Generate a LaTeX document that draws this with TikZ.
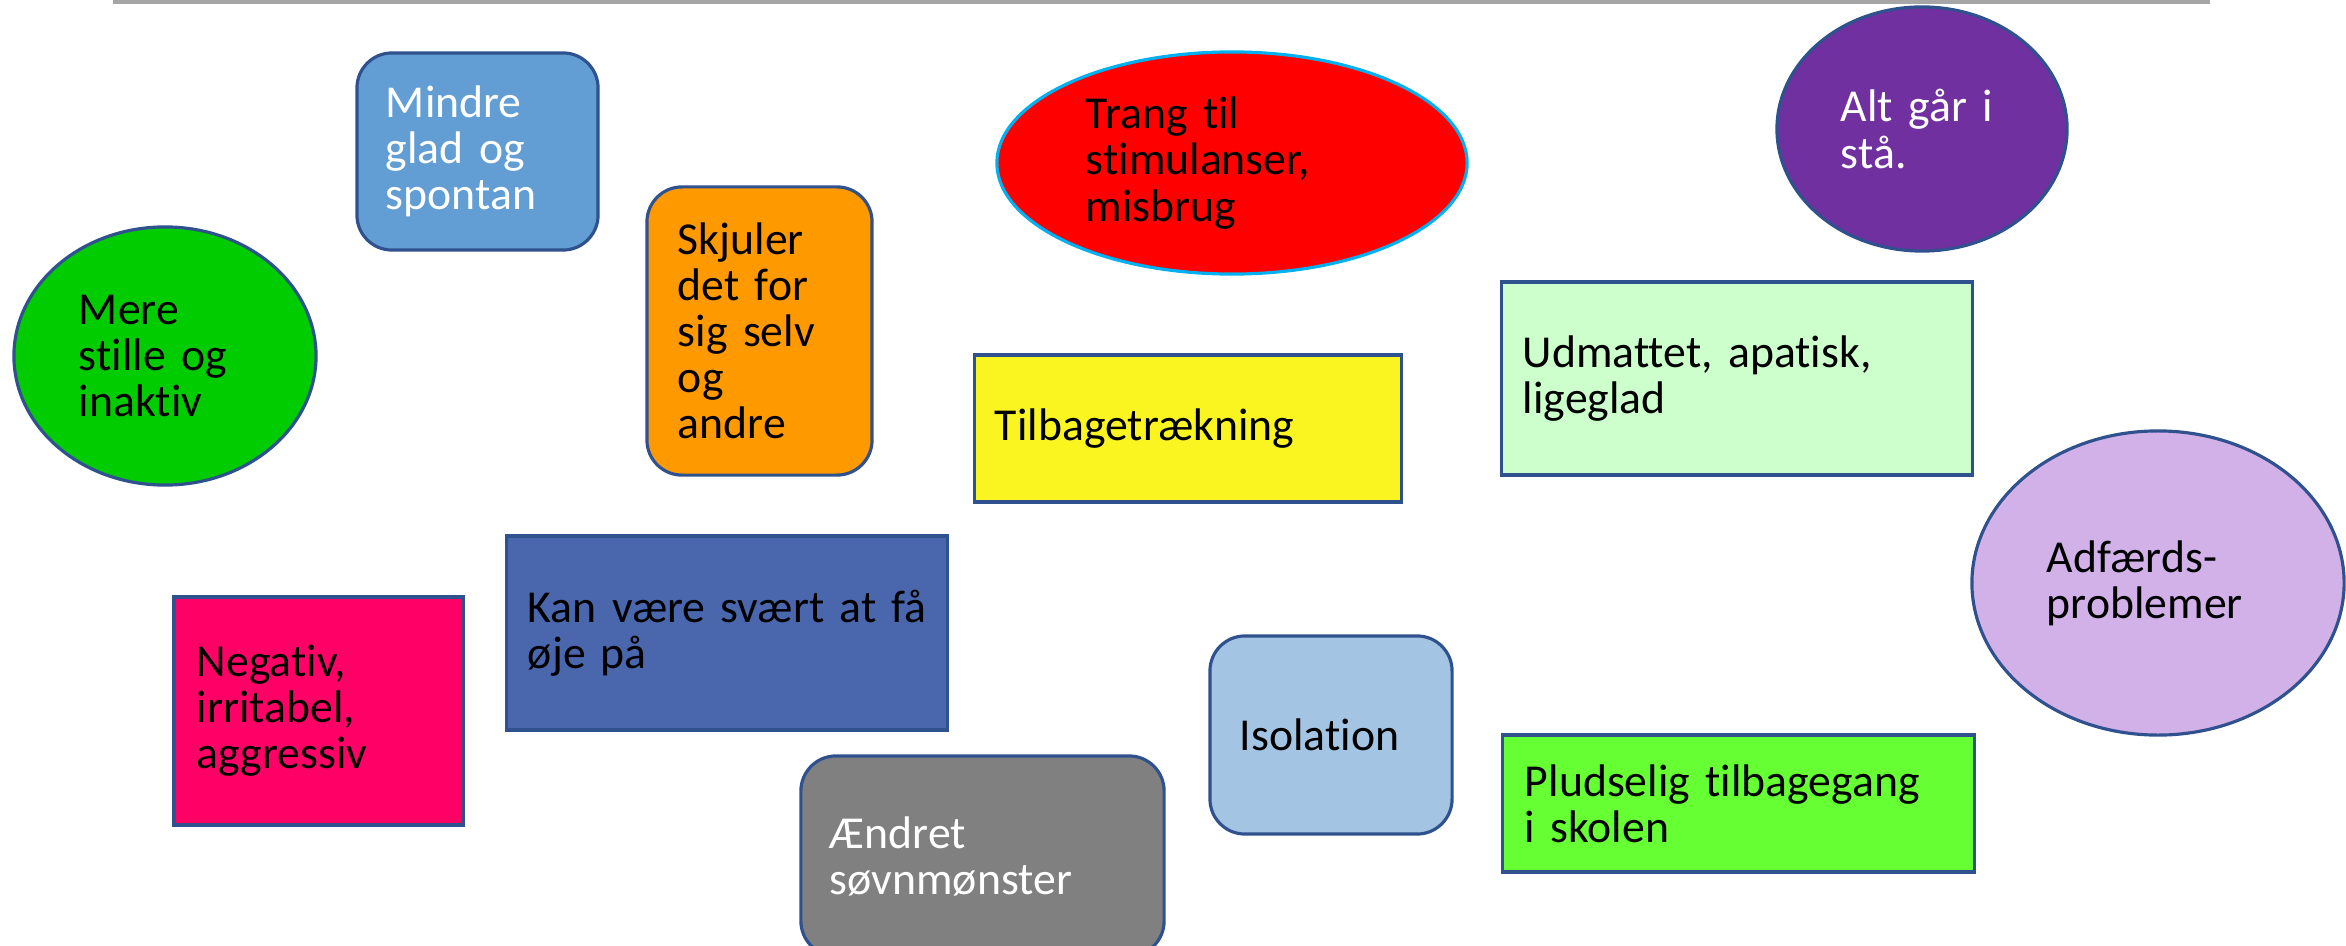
\documentclass[tikz,border=0pt]{standalone}
\usepackage{fontspec}
\setmainfont{Carlito}[Ligatures=NoCommon]
\usetikzlibrary{shapes.geometric}
\definecolor{edgeblue}{HTML}{2F528F}
\definecolor{rulegray}{HTML}{A6A6A6}
\definecolor{oceanblue}{HTML}{629ED3}
\definecolor{orangefill}{HTML}{FF9900}
\definecolor{cyanedge}{HTML}{00B0F0}
\definecolor{purplefill}{HTML}{7030A0}
\definecolor{mintfill}{HTML}{CCFFCC}
\definecolor{yellowfill}{HTML}{FAF520}
\definecolor{lilacfill}{HTML}{D1B1E8}
\definecolor{skyfill}{HTML}{A3C4E2}
\definecolor{limefill}{HTML}{66FF33}
\definecolor{pinkfill}{HTML}{FF0066}
\definecolor{navyfill}{HTML}{4A66AC}
\definecolor{grayfill}{HTML}{808080}
\definecolor{grassfill}{HTML}{00CC00}
\begin{document}
\begin{tikzpicture}[x=0.01cm,y=-0.01cm,
    main node/.style={draw=edgeblue,line width=0.9pt,inner sep=0pt,align=left,
      font=\fontsize{13}{13.1}\selectfont},
    box node/.style={main node,rectangle},
    round node/.style={main node,rectangle,rounded corners=0.35cm},
    oval node/.style={main node,ellipse}]
    \useasboundingbox (0,0) rectangle (2346,946);
    \clip (0,0) rectangle (2346,946);

    \coordinate (a) at (113,2);
    \coordinate (b) at (2210,2);
    \draw[rulegray,line width=0.9pt] (a) -- (b);

    \node[round node,fill=oceanblue,text=white,minimum width=2.41cm,minimum height=1.97cm,text width=1.83cm] (1) at (477.5,151.5) {Mindre\\glad og\\spontan};
    \node[round node,fill=orangefill,minimum width=2.25cm,minimum height=2.88cm,text width=1.63cm] (2) at (759.5,331) {Skjuler\\det for\\sig selv\\og\\andre};
    \node[oval node,draw=cyanedge,fill=red,minimum width=4.7cm,minimum height=2.22cm,text width=2.92cm] (3) at (1232,163) {Trang til\\stimulanser,\\misbrug};
    \node[oval node,fill=purplefill,text=white,minimum width=2.9cm,minimum height=2.44cm,text width=1.62cm] (4) at (1922,129) {Alt går i\\stå.};
    \node[box node,fill=mintfill,minimum width=4.7cm,minimum height=1.93cm,text width=4.28cm] (5) at (1737,378.5) {Udmattet, apatisk,\\ligeglad};
    \node[box node,fill=yellowfill,minimum width=4.26cm,minimum height=1.47cm,text width=3.86cm] (6) at (1188,428.5) {Tilbagetrækning};
    \node[oval node,fill=lilacfill,minimum width=3.72cm,minimum height=3.04cm,text width=2.22cm] (7) at (2158,583) {Adfærds-\\problemer};
    \node[round node,fill=skyfill,minimum width=2.42cm,minimum height=1.98cm,text width=1.82cm] (8) at (1331,735) {Isolation};
    \node[box node,fill=limefill,minimum width=4.71cm,minimum height=1.37cm,text width=4.27cm] (9) at (1738.5,803.5) {Pludselig tilbagegang\\i skolen};
    \node[box node,fill=pinkfill,minimum width=2.89cm,minimum height=2.28cm,text width=2.43cm] (10) at (318.5,711) {Negativ,\\irritabel,\\aggressiv};
    \node[box node,fill=navyfill,minimum width=4.4cm,minimum height=1.94cm,text width=3.98cm] (11) at (727,633) {\mbox{Kan være svært at få}\\øje på};
    \node[round node,fill=grayfill,text=white,minimum width=3.63cm,minimum height=2cm,text width=3.05cm] (12) at (982.5,856) {Ændret\\søvnmønster};
    \node[oval node,fill=grassfill,minimum width=3.02cm,minimum height=2.58cm,text width=1.72cm] (13) at (165,356) {Mere\\stille og\\inaktiv};

\end{tikzpicture}
\end{document}
